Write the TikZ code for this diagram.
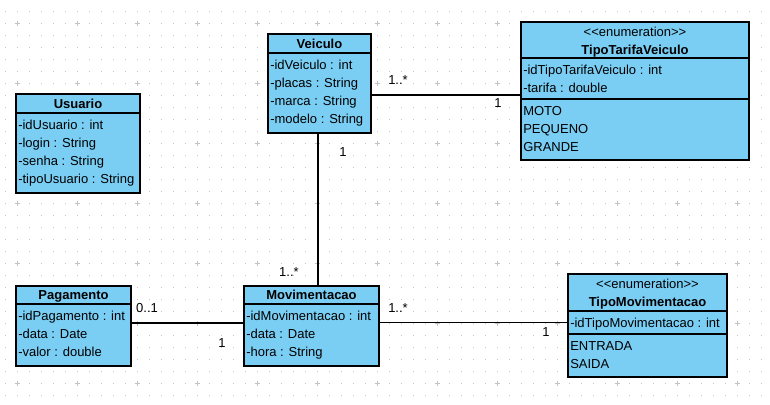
\documentclass[tikz,border=0pt]{standalone}
\usepackage{fontspec}
\setmainfont{Liberation Sans}
\usetikzlibrary{fit}
\definecolor{classfill}{RGB}{122,206,244}
\definecolor{gridc}{RGB}{195,195,195}
\begin{document}
\begin{tikzpicture}[x=0.75pt,y=-0.75pt,
  font=\fontsize{9.75}{11.7}\selectfont,
  classbox/.style={draw=black, line width=1.4pt, fill=classfill, inner sep=0pt},
  divline/.style={draw=black, line width=1.1pt},
  titletext/.style={font=\fontsize{9.75}{11.7}\selectfont\bfseries, inner sep=0pt, anchor=base},
  stereo/.style={inner sep=0pt, anchor=base},
  attr/.style={inner sep=0pt, anchor=base west},
  assoc/.style={draw=black, line width=1.1pt},
  mult/.style={inner sep=0pt, anchor=base}]
% canvas
\fill[white] (0,0) rectangle (770,404);
\useasboundingbox (0,0) rectangle (770,404);
% grid
\foreach \i in {0,...,63}{\foreach \j in {0,...,32}{
  \fill[gridc] ({5+12*\i-0.5},{11+12*\j-0.5}) rectangle ++(1.2,1.2);}}
\foreach \i in {0,...,12}{\foreach \j in {0,...,6}{
  \draw[gridc, line width=0.75pt] ({17+60*\i-2.5},{23+60*\j}) -- ++(5,0)
        ({17+60*\i},{23+60*\j-2.5}) -- ++(0,5);}}

% ---- Usuario
\node[classbox, fit={(16,94)(140,193)}] (usuario) {};
\draw[divline] (usuario.west |- 0,113) -- (usuario.east |- 0,113);
\node[titletext] (usuarioT) at (78,108) {Usuario};
\node[attr] (usuarioA1) at (18,129.3) {-idUsuario : int};
\node[attr] (usuarioA2) at (18,147.3) {-login : String};
\node[attr] (usuarioA3) at (18,165.3) {-senha : String};
\node[attr] (usuarioA4) at (18,183.3) {-tipoUsuario : String};

% ---- Veiculo
\node[classbox, fit={(268,34)(371,133)}] (veiculo) {};
\draw[divline] (veiculo.west |- 0,53) -- (veiculo.east |- 0,53);
\node[titletext] (veiculoT) at (319.5,48) {Veiculo};
\node[attr] (veiculoA1) at (270,69) {-idVeiculo : int};
\node[attr] (veiculoA2) at (270,87) {-placas : String};
\node[attr] (veiculoA3) at (270,105) {-marca : String};
\node[attr] (veiculoA4) at (270,123) {-modelo : String};

% ---- TipoTarifaVeiculo
\node[classbox, fit={(521,22)(749,160)}] (tarifa) {};
\draw[divline] (tarifa.west |- 0,58) -- (tarifa.east |- 0,58);
\draw[divline] (tarifa.west |- 0,99) -- (tarifa.east |- 0,99);
\node[stereo] (tarifaS) at (635,36.5) {{<}{<}enumeration{>}{>}};
\node[titletext] (tarifaT) at (635,54) {TipoTarifaVeiculo};
\node[attr] (tarifaA1) at (523,74.3) {-idTipoTarifaVeiculo : int};
\node[attr] (tarifaA2) at (523,92.3) {-tarifa : double};
\node[attr] (tarifaE1) at (523,115.8) {MOTO};
\node[attr] (tarifaE2) at (523,133.8) {PEQUENO};
\node[attr] (tarifaE3) at (523,151.8) {GRANDE};

% ---- Pagamento
\node[classbox, fit={(16,286)(131,366)}] (pagamento) {};
\draw[divline] (pagamento.west |- 0,304) -- (pagamento.east |- 0,304);
\node[titletext] (pagamentoT) at (73.5,299) {Pagamento};
\node[attr] (pagamentoA1) at (18,320.5) {-idPagamento : int};
\node[attr] (pagamentoA2) at (18,338.5) {-data : Date};
\node[attr] (pagamentoA3) at (18,356.5) {-valor : double};

% ---- Movimentacao
\node[classbox, fit={(244,286)(379,366)}] (movim) {};
\draw[divline] (movim.west |- 0,304) -- (movim.east |- 0,304);
\node[titletext] (movimT) at (311.5,299) {Movimentacao};
\node[attr] (movimA1) at (246,320.5) {-idMovimentacao : int};
\node[attr] (movimA2) at (246,338.5) {-data : Date};
\node[attr] (movimA3) at (246,356.5) {-hora : String};

% ---- TipoMovimentacao
\node[classbox, fit={(568,274)(727,377)}] (tipomov) {};
\draw[divline] (tipomov.west |- 0,311) -- (tipomov.east |- 0,311);
\draw[divline] (tipomov.west |- 0,334) -- (tipomov.east |- 0,334);
\node[stereo] (tipomovS) at (647.5,288) {{<}{<}enumeration{>}{>}};
\node[titletext] (tipomovT) at (647.5,306) {TipoMovimentacao};
\node[attr] (tipomovA1) at (570,327.5) {-idTipoMovimentacao : int};
\node[attr] (tipomovE1) at (570,350.8) {ENTRADA};
\node[attr] (tipomovE2) at (570,368.8) {SAIDA};

% ---- associations
\draw[assoc] (veiculo.east |- 0,95) -- (tarifa.west |- 0,95);
\draw[assoc] (veiculo.south -| 318,0) -- (movim.north -| 318,0);
\draw[assoc] (pagamento.east |- 0,323) -- (movim.west |- 0,323);
\draw[assoc] (movim.east |- 0,322.5) -- (tipomov.west |- 0,322.5);

% ---- multiplicities
\node[mult] (m1) at (398,84.6) {1..*};
\node[mult] (m2) at (498,107.6) {1};
\node[mult] (m3) at (343,156.6) {1};
\node[mult] (m4) at (289,276.4) {1..*};
\node[mult] (m5) at (147,312.6) {0..1};
\node[mult] (m6) at (222,347.6) {1};
\node[mult] (m7) at (398,312.6) {1..*};
\node[mult] (m8) at (546,336.6) {1};
\end{tikzpicture}
\end{document}
